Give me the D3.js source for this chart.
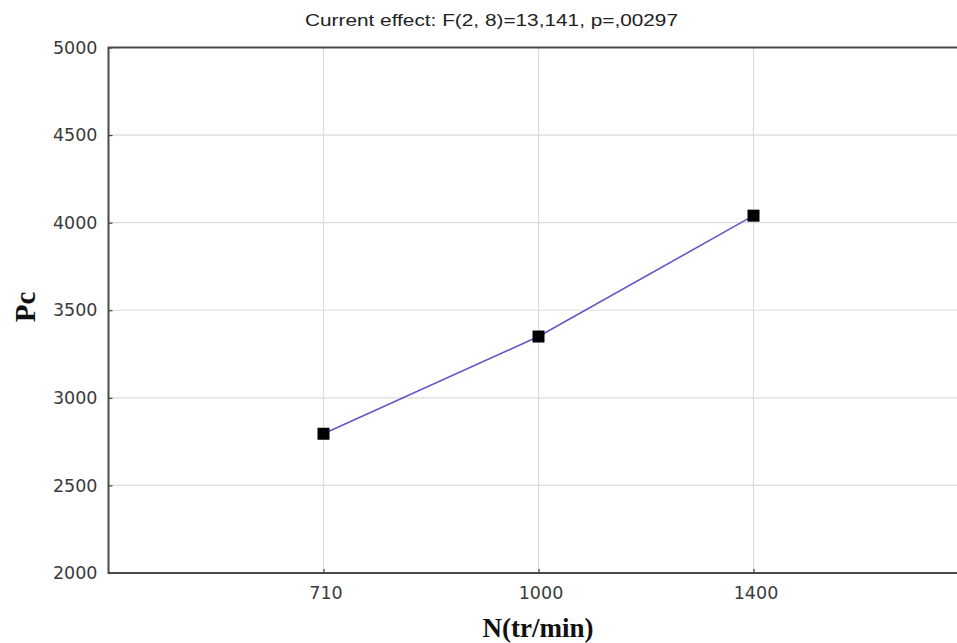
<!DOCTYPE html>
<html>
<head>
<meta charset="utf-8">
<script src="https://cdn.jsdelivr.net/npm/d3@7"></script>
<style>
  body { margin: 0; background: #fff; }
</style>
</head>
<body>
<svg id="chart" width="957" height="643"></svg>
<script>
// data
const categories = ["710", "1000", "1400"];
const values = [2795, 3350, 4040];
const yTicks = [2000, 2500, 3000, 3500, 4000, 4500, 5000];
const title = "Current effect: F(2, 8)=13,141, p=,00297";

const width = 957, height = 643;
const mLeft = 108.5, mTop = 47.5, mBottom = 573, mRight = 968.5;

const svg = d3.select("#chart");

const x = d3.scalePoint().domain(categories).range([mLeft, mRight]).padding(1);
const y = d3.scaleLinear().domain([2000, 5000]).range([mBottom, mTop]);

// grid lines
svg.append("g")
  .selectAll("line.h")
  .data(yTicks.slice(1, -1))
  .enter()
  .append("line")
  .attr("x1", mLeft).attr("x2", width)
  .attr("y1", d => y(d)).attr("y2", d => y(d))
  .attr("stroke", "#dcdcdc").attr("stroke-width", 1.2);

svg.append("g")
  .selectAll("line.v")
  .data(categories)
  .enter()
  .append("line")
  .attr("x1", d => x(d)).attr("x2", d => x(d))
  .attr("y1", mTop).attr("y2", mBottom)
  .attr("stroke", "#dcdcdc").attr("stroke-width", 1.2);

// Y axis, ticks pointing into the plot
const yAxis = svg.append("g")
  .attr("transform", "translate(" + mLeft + ",0)")
  .call(d3.axisRight(y).tickValues(yTicks).tickSize(4).tickFormat(d3.format("d")));
yAxis.select(".domain").remove();
yAxis.selectAll("line").attr("stroke", "#444").attr("stroke-width", 1.2);
yAxis.selectAll("text")
  .attr("x", -11).attr("text-anchor", "end")
  .attr("fill", "#3a3a3a")
  .style("font-family", "DejaVu Sans, sans-serif")
  .style("font-size", "17.5px");

// X axis
const xAxis = svg.append("g")
  .attr("transform", "translate(0," + mBottom + ")")
  .call(d3.axisTop(x).tickSize(4));
xAxis.select(".domain").remove();
xAxis.selectAll("line").attr("stroke", "#444").attr("stroke-width", 1.2);
xAxis.selectAll("text")
  .attr("y", 26).attr("dy", 0)
  .attr("dx", 2)
  .attr("fill", "#3a3a3a")
  .style("font-family", "DejaVu Sans, sans-serif")
  .style("font-size", "17.5px");

// frame: left, bottom, top (right edge runs off the picture)
svg.append("path")
  .attr("d", "M" + width + "," + mTop + "H" + mLeft + "V" + mBottom + "H" + width)
  .attr("fill", "none")
  .attr("stroke", "#4a4a4a")
  .attr("stroke-width", 2);

// line
const line = d3.line()
  .x((d, i) => x(categories[i]))
  .y(d => y(d));

svg.append("path")
  .datum(values)
  .attr("d", line)
  .attr("fill", "none")
  .attr("stroke", "#6358c8")
  .attr("stroke-width", 1.6);

// square markers
svg.selectAll("rect.pt")
  .data(values)
  .enter()
  .append("rect")
  .attr("x", (d, i) => x(categories[i]) - 6)
  .attr("y", d => y(d) - 6)
  .attr("width", 12)
  .attr("height", 12)
  .attr("fill", "#000");

// title
svg.append("text")
  .attr("x", 305).attr("y", 26)
  .attr("textLength", 373)
  .attr("lengthAdjust", "spacingAndGlyphs")
  .attr("fill", "#222")
  .style("font-family", "Liberation Sans, Arial, sans-serif")
  .style("font-size", "17px")
  .text(title);

// axis titles
svg.append("text")
  .attr("x", 538).attr("y", 637)
  .attr("text-anchor", "middle")
  .attr("fill", "#111")
  .style("font-family", "Liberation Serif, Times New Roman, serif")
  .style("font-weight", "bold")
  .style("font-size", "27px")
  .text("N(tr/min)");

svg.append("text")
  .attr("transform", "translate(35,307) rotate(-90)")
  .attr("text-anchor", "middle")
  .attr("fill", "#111")
  .style("font-family", "Liberation Serif, Times New Roman, serif")
  .style("font-weight", "bold")
  .style("font-size", "29px")
  .text("Pc");
</script>
</body>
</html>
